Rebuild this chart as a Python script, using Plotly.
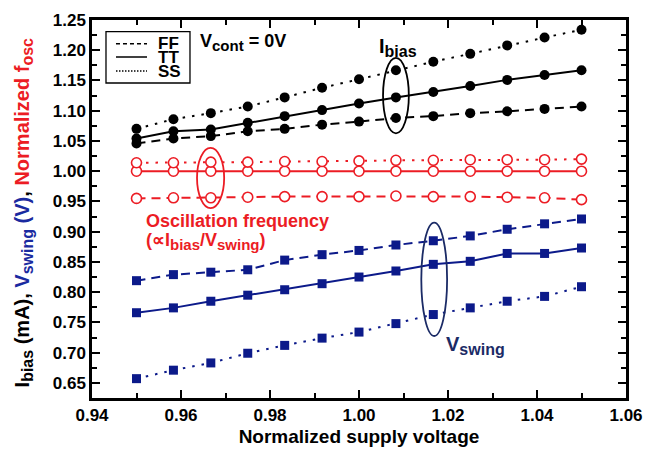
import plotly.graph_objects as go

# ---------------- data ----------------
supply = [0.95, 0.9583, 0.9667, 0.975, 0.9833, 0.9917, 1.0, 1.0083, 1.0167, 1.025, 1.0333, 1.0417, 1.05]

ibias_ff = [1.046, 1.054, 1.058, 1.066, 1.070, 1.077, 1.082, 1.088, 1.091, 1.096, 1.099, 1.103, 1.107]
ibias_tt = [1.054, 1.066, 1.069, 1.080, 1.091, 1.101, 1.112, 1.122, 1.131, 1.141, 1.151, 1.159, 1.167]
ibias_ss = [1.070, 1.086, 1.096, 1.107, 1.122, 1.138, 1.152, 1.167, 1.181, 1.194, 1.208, 1.221, 1.234]

fosc_ff = [0.955, 0.956, 0.956, 0.957, 0.958, 0.958, 0.958, 0.959, 0.958, 0.958, 0.957, 0.956, 0.953]
fosc_tt = [1.000, 1.000, 1.000, 1.000, 1.000, 1.000, 1.000, 1.000, 1.000, 1.000, 1.000, 1.000, 1.000]
fosc_ss = [1.014, 1.014, 1.015, 1.015, 1.016, 1.016, 1.017, 1.018, 1.018, 1.019, 1.019, 1.019, 1.020]

vswing_ff = [0.819, 0.829, 0.833, 0.837, 0.853, 0.862, 0.869, 0.878, 0.885, 0.893, 0.904, 0.913, 0.921]
vswing_tt = [0.766, 0.774, 0.785, 0.795, 0.804, 0.814, 0.825, 0.835, 0.846, 0.851, 0.864, 0.864, 0.873]
vswing_ss = [0.657, 0.671, 0.683, 0.699, 0.712, 0.724, 0.734, 0.748, 0.763, 0.774, 0.785, 0.793, 0.809]

corners = ["FF", "TT", "SS"]
x_ticks = [0.94, 0.96, 0.98, 1.00, 1.02, 1.04, 1.06]
y_ticks = [0.65, 0.70, 0.75, 0.80, 0.85, 0.90, 0.95, 1.00, 1.05, 1.10, 1.15, 1.20, 1.25]

# ---------------- styles ----------------
BLACK = "#000000"
RED = "#ec1c24"
NAVY = "#0c1a8a"
NAVY_DARK = "#1b2b66"
FONT = "Liberation Sans, Arial, sans-serif"
dash_map = {"FF": "9px,6px", "TT": "solid", "SS": "2.5px,7px"}


def sub(s, px):
    return f"<sub><span style='font-size:{px}px'>{s}</span></sub>"


fig = go.Figure()

groups = [
    (dict(zip(corners, [ibias_ff, ibias_tt, ibias_ss])), BLACK,
     dict(symbol="circle", size=10, color=BLACK)),
    (dict(zip(corners, [fosc_ff, fosc_tt, fosc_ss])), RED,
     dict(symbol="circle", size=10, color="white", line=dict(width=1.6, color=RED))),
    (dict(zip(corners, [vswing_ff, vswing_tt, vswing_ss])), NAVY,
     dict(symbol="square", size=9, color=NAVY)),
]
for series, col, mk in groups:
    for c in corners:
        fig.add_trace(go.Scatter(
            x=supply, y=series[c], mode="lines+markers",
            line=dict(color=col, width=2, dash=dash_map[c]),
            marker=mk, showlegend=False, hoverinfo="skip"))

axis_common = dict(
    showline=True, linecolor=BLACK, linewidth=2.5, mirror="ticks",
    ticks="inside", ticklen=8, tickwidth=2, tickcolor=BLACK,
    showgrid=False, zeroline=False,
    tickfont=dict(family=FONT, size=17, color=BLACK),
)

fig.update_xaxes(
    range=[0.94, 1.06], tickvals=x_ticks, ticktext=[f"<b>{v:.2f}</b>" for v in x_ticks],
    minor=dict(dtick=0.01, tick0=0.94, ticks="inside", ticklen=5, tickwidth=2, tickcolor=BLACK),
    title=dict(text="<b>Normalized supply voltage</b>", font=dict(family=FONT, size=19, color=BLACK), standoff=6),
    **axis_common)
fig.update_yaxes(
    range=[0.625, 1.25], tickvals=y_ticks, ticktext=[f"<b>{v:.2f}</b>" for v in y_ticks],
    minor=dict(dtick=0.025, tick0=0.625, ticks="inside", ticklen=5, tickwidth=2, tickcolor=BLACK),
    **axis_common)

# ---------------- ellipses ----------------
fig.add_shape(type="circle", xref="x", yref="y", x0=1.0054, x1=1.0112, y0=1.0625, y1=1.1875,
              line=dict(color=BLACK, width=1.8))
fig.add_shape(type="circle", xref="x", yref="y", x0=0.9636, x1=0.9697, y0=0.939, y1=1.0385,
              line=dict(color=RED, width=1.8))
fig.add_shape(type="circle", xref="x", yref="y", x0=1.0140, x1=1.0198, y0=0.7275, y1=0.915,
              line=dict(color=NAVY_DARK, width=1.8))

# ---------------- legend (drawn) ----------------
fig.add_shape(type="rect", xref="paper", yref="paper", x0=0.0262, x1=0.1835, y0=0.8333, y1=0.969,
              line=dict(color=BLACK, width=1.3), fillcolor="white")
leg_y = [0.937, 0.902, 0.865]
leg_dash = {"FF": "4px,3px", "TT": "solid", "SS": "1.5px,1.5px"}
for c, yy in zip(corners, leg_y):
    fig.add_shape(type="line", xref="paper", yref="paper", x0=0.0449, x1=0.1030, y0=yy, y1=yy,
                  line=dict(color=BLACK, width=1.6, dash=leg_dash[c]))
    fig.add_annotation(xref="paper", yref="paper", x=0.1200, y=yy, text=f"<b>{c}</b>",
                       xanchor="left", yanchor="middle", showarrow=False,
                       font=dict(family=FONT, size=17, color=BLACK))

# ---------------- text annotations ----------------
fig.add_annotation(xref="x", yref="y", x=0.9739, y=1.212, showarrow=False,
                   text=f"<b>V{sub('cont', 15)} = 0V</b>", xanchor="center", yanchor="middle",
                   font=dict(family=FONT, size=18, color=BLACK))
fig.add_annotation(xref="x", yref="y", x=1.0040, y=1.205, showarrow=False,
                   text=f"<b>I{sub('bias', 16)}</b>", xanchor="left", yanchor="middle",
                   font=dict(family=FONT, size=20, color=BLACK))
fig.add_annotation(xref="x", yref="y", x=0.9516, y=0.918, showarrow=False,
                   text="<b>Oscillation frequency</b>", xanchor="left", yanchor="middle",
                   font=dict(family=FONT, size=18, color=RED))
fig.add_annotation(xref="x", yref="y", x=0.9516, y=0.884, showarrow=False,
                   text=f"<b>(∝I{sub('bias', 15)}/V{sub('swing', 15)})</b>", xanchor="left", yanchor="middle",
                   font=dict(family=FONT, size=18, color=RED))
fig.add_annotation(xref="x", yref="y", x=1.0190, y=0.712, showarrow=False,
                   text=f"<b>V{sub('swing', 16)}</b>", xanchor="left", yanchor="middle",
                   font=dict(family=FONT, size=20, color=NAVY_DARK))

# y-axis title with coloured parts
fig.add_annotation(xref="paper", yref="paper", x=-0.128, y=0.49, textangle=-90, showarrow=False,
                   xanchor="center", yanchor="middle",
                   text=(f"<b>I{sub('bias', 16)} (mA), </b>"
                         f"<b><span style='color:#1a2aa0'>V{sub('swing', 16)} (V)</span>, </b>"
                         f"<b><span style='color:#ec1c24'>Normalized f{sub('osc', 16)}</span></b>"),
                   font=dict(family=FONT, size=20, color=BLACK))

fig.update_layout(
    width=670, height=455,
    margin=dict(l=92, r=44, t=11, b=54),
    plot_bgcolor="white", paper_bgcolor="white",
    showlegend=False,
)

fig.write_html("out.html")
